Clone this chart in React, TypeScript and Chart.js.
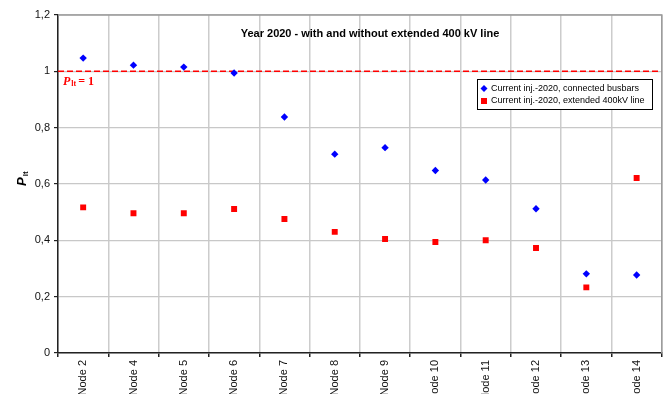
import React, { useEffect, useRef } from "react";
import { Chart, registerables } from "chart.js";

Chart.register(...registerables);

const categories = ["Node 2", "Node 4", "Node 5", "Node 6", "Node 7", "Node 8", "Node 9", "Node 10", "Node 11", "Node 12", "Node 13", "Node 14"];
const connectedBusbars = [1.047, 1.022, 1.015, 0.994, 0.838, 0.706, 0.729, 0.648, 0.614, 0.512, 0.281, 0.277];
const extended400kV = [0.517, 0.496, 0.496, 0.511, 0.476, 0.430, 0.405, 0.394, 0.400, 0.373, 0.233, 0.621];
const seriesNames = ["Current inj.-2020, connected busbars", "Current inj.-2020, extended 400kV line"];
const chartTitle = "Year 2020 - with and without extended 400 kV line";
const thresholdValue = 1;

const FONT = "'Liberation Sans', Arial, sans-serif";
const SERIF = "'Liberation Serif', 'Times New Roman', serif";

const decorPlugin = {
  id: "decor",
  beforeDatasetsDraw(chart: any) {
    const { ctx, chartArea, scales } = chart;
    const y = scales.y.getPixelForValue(thresholdValue);
    ctx.save();
    ctx.strokeStyle = "#ff0000";
    ctx.lineWidth = 1.5;
    ctx.setLineDash([6, 3]);
    ctx.beginPath();
    ctx.moveTo(chartArea.left, y);
    ctx.lineTo(chartArea.right, y);
    ctx.stroke();
    ctx.restore();
  },
  afterDraw(chart: any) {
    const { ctx, chartArea, scales } = chart;
    ctx.save();
    ctx.strokeStyle = "#9a9a9a";
    ctx.lineWidth = 1.5;
    ctx.beginPath();
    ctx.moveTo(chartArea.left, chartArea.top);
    ctx.lineTo(chartArea.right, chartArea.top);
    ctx.lineTo(chartArea.right, chartArea.bottom);
    ctx.stroke();

    ctx.fillStyle = "#000";
    ctx.font = `bold 11px ${FONT}`;
    ctx.textAlign = "center";
    ctx.textBaseline = "middle";
    ctx.fillText(chartTitle, 370, chartArea.top + 19);

    const ty = scales.y.getPixelForValue(thresholdValue);
    ctx.fillStyle = "#ff0000";
    ctx.textAlign = "left";
    ctx.textBaseline = "alphabetic";
    let x = chartArea.left + 5;
    ctx.font = `italic bold 12px ${SERIF}`;
    ctx.fillText("P", x, ty + 14);
    x += ctx.measureText("P").width + 1;
    ctx.font = `bold 8px ${SERIF}`;
    ctx.fillText("lt", x, ty + 15);
    x += ctx.measureText("lt").width + 2;
    ctx.font = `bold 12px ${SERIF}`;
    ctx.fillText("= 1", x, ty + 14);

    const lx = 477, ly = 79, lw = 175, lh = 30;
    ctx.fillStyle = "#fff";
    ctx.fillRect(lx, ly, lw, lh);
    ctx.strokeStyle = "#000";
    ctx.lineWidth = 1;
    ctx.strokeRect(lx + 0.5, ly + 0.5, lw, lh);
    ctx.font = `9px ${FONT}`;
    ctx.fillStyle = "#000";
    ctx.textBaseline = "middle";
    ctx.fillText(seriesNames[0], lx + 14, ly + 9.5);
    ctx.fillText(seriesNames[1], lx + 14, ly + 22);
    ctx.fillStyle = "#0000ff";
    const mx = lx + 7, my1 = ly + 9.5;
    ctx.beginPath();
    ctx.moveTo(mx, my1 - 3.5);
    ctx.lineTo(mx + 3.5, my1);
    ctx.lineTo(mx, my1 + 3.5);
    ctx.lineTo(mx - 3.5, my1);
    ctx.closePath();
    ctx.fill();
    ctx.fillStyle = "#ff0000";
    ctx.fillRect(mx - 3, ly + 19, 6, 6);

    ctx.translate(22, 178);
    ctx.rotate(-Math.PI / 2);
    ctx.fillStyle = "#000";
    ctx.textAlign = "left";
    ctx.textBaseline = "alphabetic";
    ctx.font = `italic bold 13px ${FONT}`;
    ctx.fillText("P", -8, 4);
    const pw = ctx.measureText("P").width;
    ctx.font = `bold 8px ${FONT}`;
    ctx.fillText("lt", -8 + pw + 1, 6);
    ctx.restore();
  },
};

export default function App() {
  const ref = useRef<HTMLCanvasElement | null>(null);
  useEffect(() => {
    if (!ref.current) return;
    const chart = new Chart(ref.current, {
      type: "line",
      data: {
        labels: categories,
        datasets: [
          {
            label: seriesNames[0],
            data: connectedBusbars,
            showLine: false,
            pointStyle: "rectRot",
            pointRadius: 3.7,
            backgroundColor: "#0000ff",
            borderColor: "#0000ff",
            borderWidth: 0,
          },
          {
            label: seriesNames[1],
            data: extended400kV,
            showLine: false,
            pointStyle: "rect",
            pointRadius: 4.2,
            backgroundColor: "#ff0000",
            borderColor: "#ff0000",
            borderWidth: 0,
          },
        ],
      },
      options: {
        animation: false,
        responsive: false,
        maintainAspectRatio: false,
        layout: { padding: { top: 15, right: 2, left: 0, bottom: 0 } },
        plugins: { legend: { display: false }, tooltip: { enabled: false } },
        scales: {
          x: {
            type: "category",
            offset: true,
            grid: {
              offset: true,
              color: "#cccccc",
              lineWidth: 1.5,
              tickColor: "#222",
              tickLength: 4,
              drawTicks: true,
            },
            border: { color: "#222", width: 1.5 },
            ticks: {
              maxRotation: 90,
              minRotation: 90,
              padding: 3,
              color: "#111",
              font: { family: FONT, size: 11 },
              autoSkip: false,
            },
            afterFit(scale: any) {
              scale.height = 420 - 353;
            },
          },
          y: {
            min: 0,
            max: 1.2,
            ticks: {
              stepSize: 0.2,
              color: "#111",
              padding: 4,
              font: { family: FONT, size: 11 },
              callback: (v: any) => String(Math.round(Number(v) * 10) / 10).replace(".", ","),
            },
            grid: { color: "#c8c8c8", lineWidth: 1.2, tickColor: "#222", tickLength: 4 },
            border: { color: "#222", width: 1.5 },
            afterFit(scale: any) {
              scale.width = 58;
            },
          },
        },
      },
      plugins: [decorPlugin],
    });
    return () => chart.destroy();
  }, []);
  return (
    <div style={{ position: "fixed", left: 0, top: 0, width: 666, height: 420, overflow: "hidden", background: "#fff" }}>
      <canvas ref={ref} width={666} height={420} style={{ width: 666, height: 420, display: "block" }} />
    </div>
  );
}
